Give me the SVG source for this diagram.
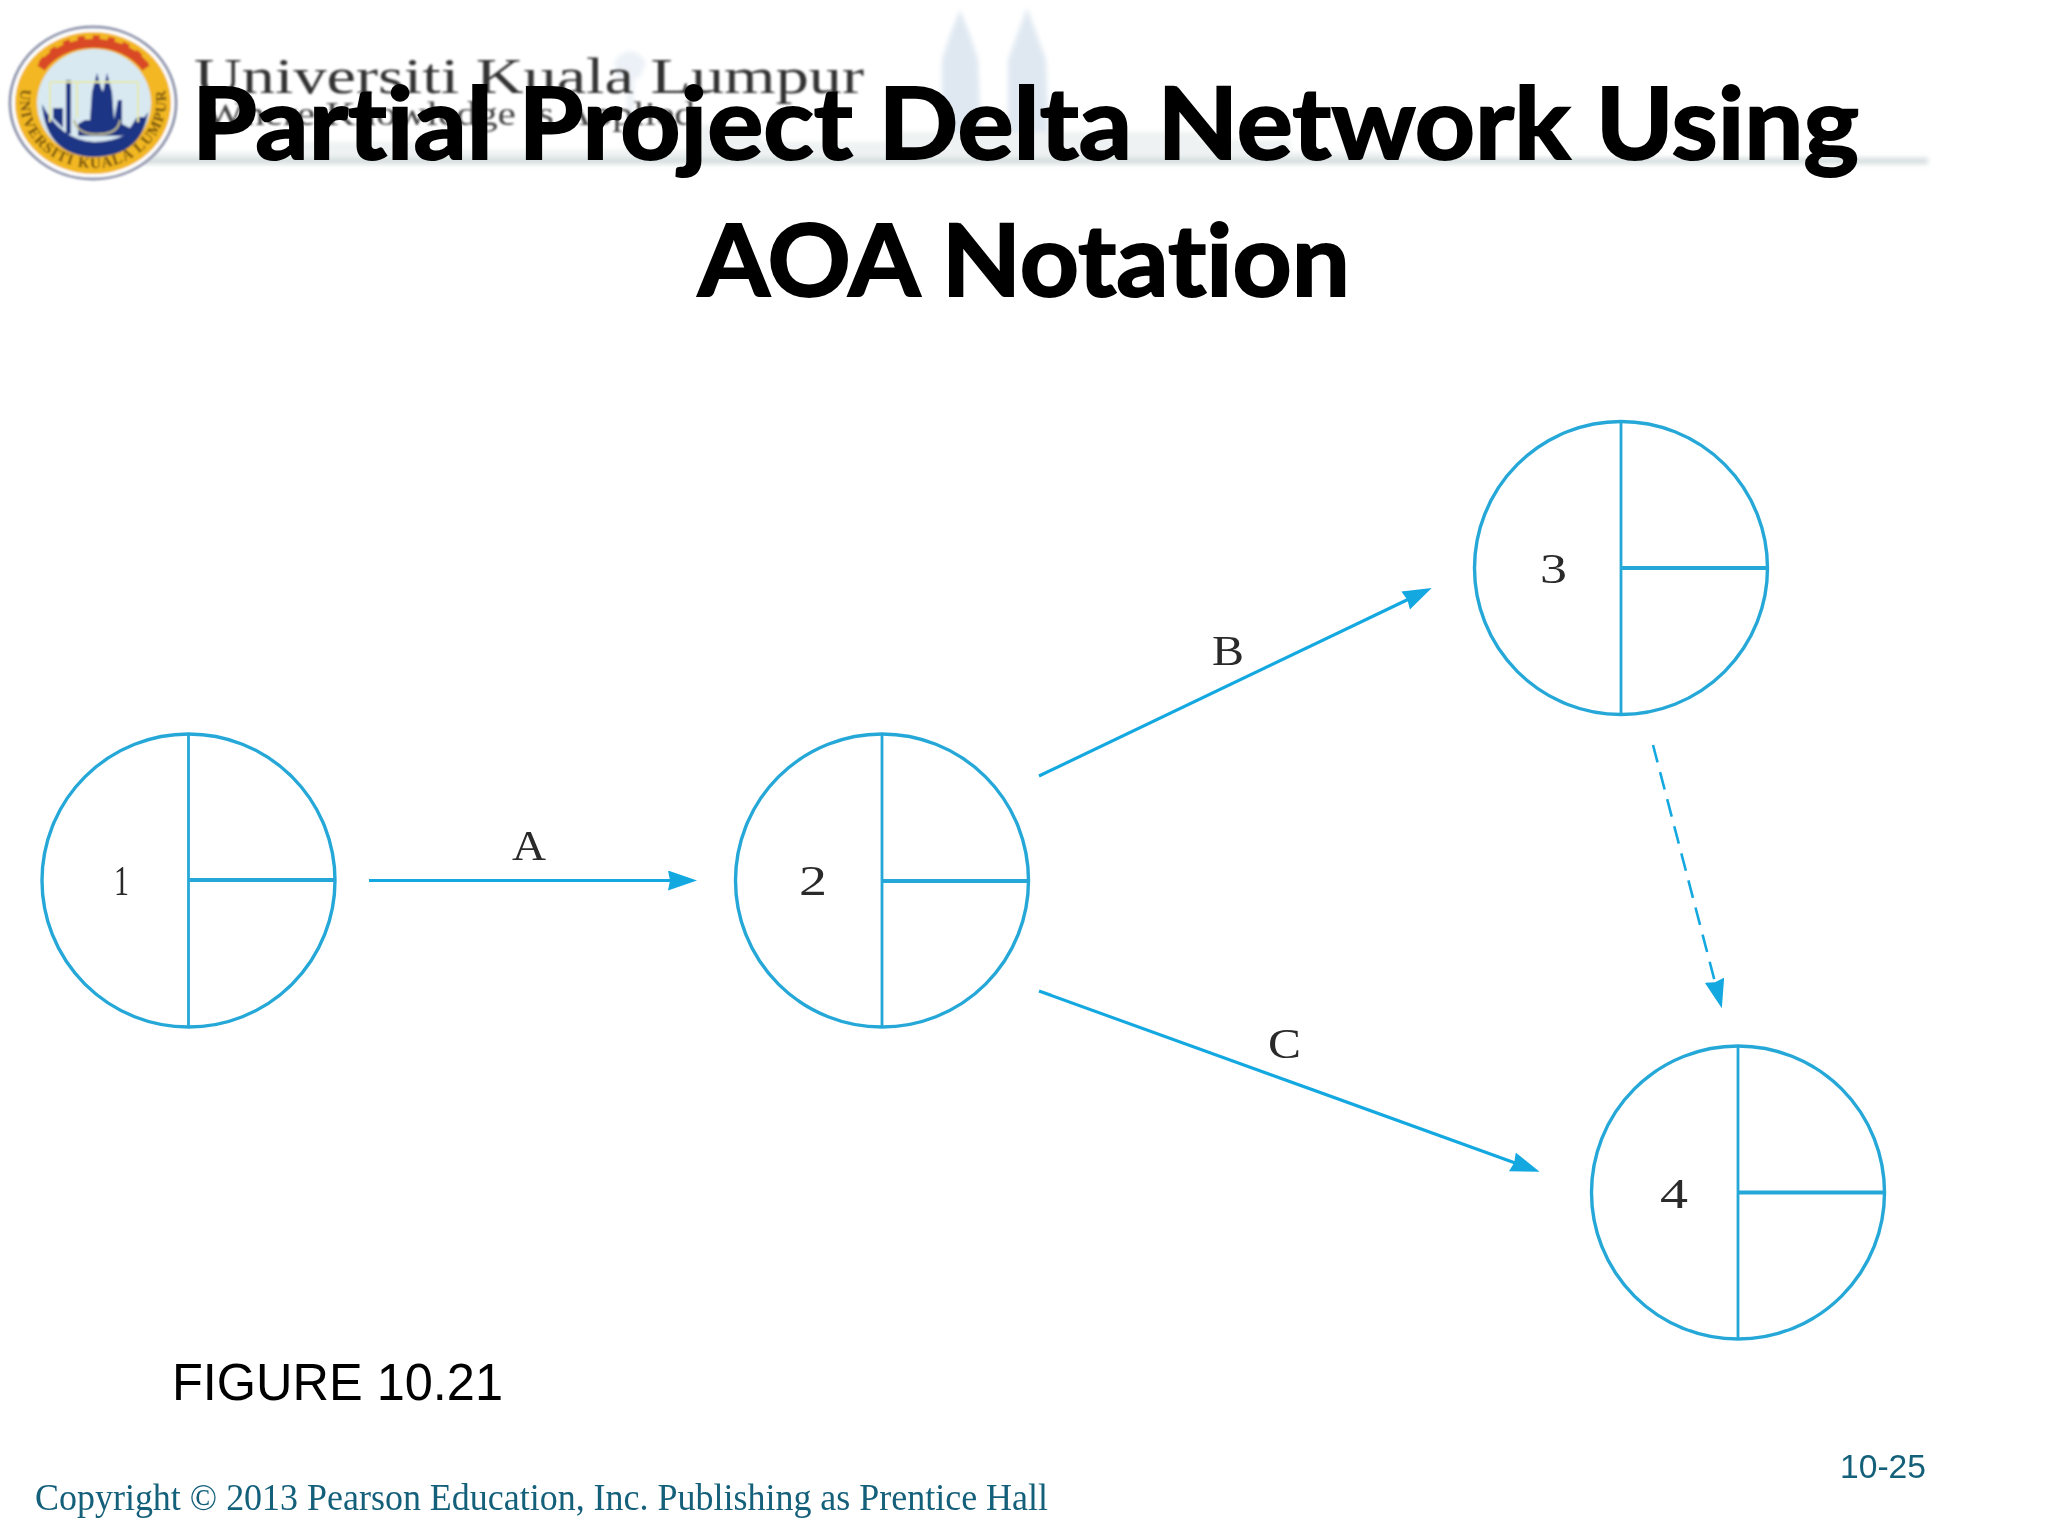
<svg xmlns="http://www.w3.org/2000/svg" width="2048" height="1536" viewBox="0 0 2048 1536">
<style>
.n{fill:none;stroke:#25a8d8;stroke-width:3.4}
.v{stroke:#25a8d8;stroke-width:2.8}
.h{stroke:#25a8d8;stroke-width:4}
.c{fill:none;stroke:#14a8e0;stroke-width:3.2}
.d{fill:none;stroke:#14a8e0;stroke-width:2.6;stroke-dasharray:18 10}
.l{font-family:"Liberation Serif",serif;font-size:43px;fill:#2a2a2a}
.t{font-family:Lato,"Liberation Sans",sans-serif;font-weight:700;font-size:100px;fill:#000;stroke:#000;stroke-width:2;font-variant-ligatures:none}
.a{font-family:"Liberation Sans",Arial,sans-serif}
.s{fill:#dfe8f1}
</style>
<defs>
<marker id="ah" markerUnits="userSpaceOnUse" markerWidth="34" markerHeight="24" refX="6" refY="10" orient="auto"><path d="M0,0L29,10L0,20L2,10Z" fill="#14a8e0"/></marker>
<filter id="b1" x="-5%" y="-20%" width="110%" height="140%"><feGaussianBlur stdDeviation="2.500"/></filter>
<filter id="b2" x="-5%" y="-20%" width="110%" height="140%"><feGaussianBlur stdDeviation="0.8"/></filter>
<path id="ring" d="M23,82A73,67 0 1 0 163,82"/>
</defs>
<rect width="2048" height="1536" fill="#fff"/>
<g id="header-band">
<g filter="url(#b1)">
<path class="s" d="M942,162L942,60L950,35L960,10L970,35L978,60L982,162Z"/>
<path class="s" d="M1008,162L1008,60L1017,35L1027,8L1037,35L1046,60L1050,162Z"/>
<path class="s" d="M627,162V78H618L614,62Q630,40 646,62L640,78H634V162Z" opacity=".6"/>
<path d="M90,162V152H300V142H420V150H700V125H760V142H900V132H1200V140H1290V152H1400V162Z" fill="#eef2f2"/>
<rect x="90" y="158" width="1838" height="6" fill="#d3dcdc"/>
</g>
<g filter="url(#b2)">
<text x="194" y="93" font-family="'Liberation Serif',serif" font-size="50" fill="#333" textLength="670" lengthAdjust="spacingAndGlyphs">Universiti Kuala Lumpur</text>
<text x="205" y="125" font-family="'Liberation Serif',serif" font-size="34" fill="#444" textLength="490" lengthAdjust="spacingAndGlyphs">Where Knowledge is Applied</text>
</g>
</g>
<g id="logo" filter="url(#b2)">
<ellipse cx="93" cy="103" rx="83" ry="76" fill="#fff" stroke="#8f95ad" stroke-width="3"/>
<ellipse cx="93" cy="103" rx="78" ry="71" fill="#f2b720"/>
<path d="M41,68A60,48 0 0 1 146,68" fill="none" stroke="#d94a25" stroke-width="9"/>
<path d="M41,64A60,50 0 0 1 146,64" fill="none" stroke="#d94a25" stroke-width="6" stroke-dasharray="7 8"/>
<ellipse cx="94" cy="103" rx="57" ry="54" fill="#d8e9f2"/>
<path d="M42,104Q46,156 94,157Q142,156 148,112Q130,142 94,142Q60,140 42,104Z" fill="#1c3484"/>
<path d="M53,108H63V128L53,118ZM66,80H71V134H66ZM78,124L85,120H90L92,92L97,73L101,88L103,92L107,73L112,92L114,120L118,100H122V124L130,128L137,117H145Q140,135 118,136H78Z" fill="#1c3484"/>
<path d="M50,82H138M50,82V122M77,82V118M138,82V122" fill="none" stroke="#e6e8a8" stroke-width="2"/>
<path d="M74,120Q78,136 100,134Q118,134 120,120" fill="none" stroke="#b8b48a" stroke-width="2"/>
<text font-family="'Liberation Serif',serif" font-size="15" font-weight="700" fill="#6a4a10" letter-spacing="1.200"><textPath href="#ring" startOffset="50%" text-anchor="middle">UNIVERSITI KUALA LUMPUR</textPath></text>
</g>
<g id="title">
<text class="t" x="192" y="159" textLength="1667" lengthAdjust="spacingAndGlyphs">Partial Project Delta Network Using</text>
<text class="t" x="698" y="296" textLength="652" lengthAdjust="spacingAndGlyphs">AOA Notation</text>
</g>
<g id="connectors">
<path class="c" d="M369,880.500H674" marker-end="url(#ah)"/>
<path class="c" d="M1039,776L1411,598" marker-end="url(#ah)"/>
<path class="c" d="M1039,991L1518,1164" marker-end="url(#ah)"/>
<path class="d" d="M1653,745L1716,986" marker-end="url(#ah)"/>
</g>
<g id="edge-labels">
<text class="l" x="512" y="860" textLength="34" lengthAdjust="spacingAndGlyphs">A</text>
<text class="l" x="1212" y="665" textLength="32" lengthAdjust="spacingAndGlyphs">B</text>
<text class="l" x="1268" y="1058" textLength="33" lengthAdjust="spacingAndGlyphs">C</text>
</g>
<g id="node1"><circle class="n" cx="188.500" cy="880.500" r="146.500"/><path class="v" d="M188.500,734V1027"/><path class="h" d="M188.500,880H335"/><text class="l" x="114" y="895" textLength="15" lengthAdjust="spacingAndGlyphs">1</text></g>
<g id="node2"><circle class="n" cx="882" cy="880.500" r="146.500"/><path class="v" d="M882,734V1027"/><path class="h" d="M882,881H1028.500"/><text class="l" x="799" y="895" textLength="28" lengthAdjust="spacingAndGlyphs">2</text></g>
<g id="node3"><circle class="n" cx="1621" cy="568" r="146.500"/><path class="v" d="M1621,421.500V714.500"/><path class="h" d="M1621,568H1767.500"/><text class="l" x="1540" y="583" textLength="27" lengthAdjust="spacingAndGlyphs">3</text></g>
<g id="node4"><circle class="n" cx="1738" cy="1192.500" r="146.500"/><path class="v" d="M1738,1046V1339"/><path class="h" d="M1738,1192.500H1884.500"/><text class="l" x="1660" y="1208" textLength="28" lengthAdjust="spacingAndGlyphs">4</text></g>
<g id="captions">
<text class="a" x="172" y="1400" font-size="52" fill="#000" textLength="331" lengthAdjust="spacingAndGlyphs">FIGURE 10.21</text>
<text class="a" x="1840" y="1478" font-size="34" fill="#14607a" textLength="86" lengthAdjust="spacingAndGlyphs">10-25</text>
<text x="35" y="1510" font-family="'Liberation Serif',serif" font-size="38" fill="#14607a" textLength="1013" lengthAdjust="spacingAndGlyphs">Copyright © 2013 Pearson Education, Inc. Publishing as Prentice Hall</text>
</g>
</svg>
